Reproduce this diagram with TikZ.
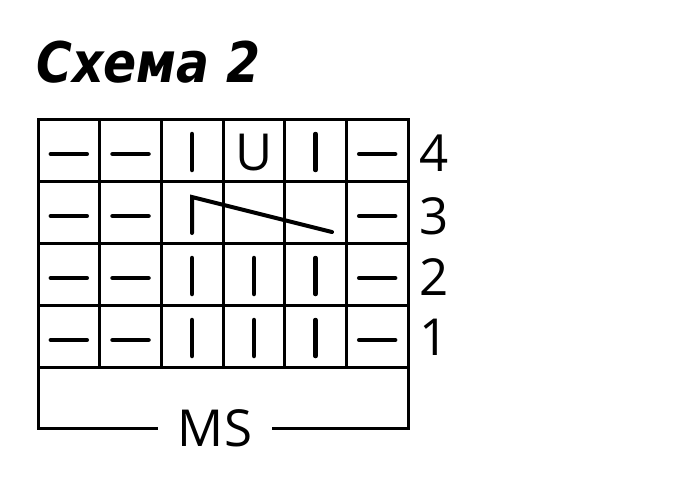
\documentclass[tikz,border=0pt]{standalone}
\usepackage{fontspec}
\setmainfont{Open Sans}
\newfontfamily\titlefont{DejaVu Sans Condensed}[BoldItalicFont={DejaVu Sans Condensed Bold Oblique}]
\tikzset{
    grid-line/.style = {line width=3pt},
    knit-mark/.style = {line width=4.5pt, line cap=round},
    cable-mark/.style = {line width=4pt, line cap=round, line join=miter},
    chart-text/.style = {font=\fontsize{51}{51}\selectfont, inner sep=0pt},
    row-num/.style = {chart-text, anchor=west},
    chart-title/.style = {font=\titlefont\bfseries\itshape\fontsize{56}{56}\selectfont, anchor=base west, inner sep=0pt, xscale=0.97},
}

\begin{document}
\begin{tikzpicture}[x=1pt, y=-1pt]
\useasboundingbox (0,0) rectangle (700,492);

\node[chart-title] (title) at (36,83) {Схема 2};

% chart grid
\draw[grid-line] (38,119) rectangle (408,367);
\draw[grid-line] (38,181) -- (408,181) (38,243) -- (408,243) (38,305) -- (408,305);
\draw[grid-line] (99.7,119) -- (99.7,367) (161.3,119) -- (161.3,367) (223,119) -- (223,367)
    (284.7,119) -- (284.7,367) (346.3,119) -- (346.3,367);

% purl stitches
\draw[knit-mark] (50.8,154) -- ++(36,0) (112.5,154) -- ++(36,0) (359.2,154) -- ++(36,0);
\draw[knit-mark] (50.8,216) -- ++(36,0) (112.5,216) -- ++(36,0) (359.2,216) -- ++(36,0);
\draw[knit-mark] (50.8,278) -- ++(36,0) (112.5,278) -- ++(36,0) (359.2,278) -- ++(36,0);
\draw[knit-mark] (50.8,340) -- ++(36,0) (112.5,340) -- ++(36,0) (359.2,340) -- ++(36,0);

% knit stitches
\draw[knit-mark] (192,134) -- ++(0,36) (315.5,134) -- ++(0,36);
\draw[knit-mark] (192,258) -- ++(0,36) (254,258) -- ++(0,36) (315.5,258) -- ++(0,36);
\draw[knit-mark] (192,320) -- ++(0,36) (254,320) -- ++(0,36) (315.5,320) -- ++(0,36);
\node[chart-text] (yo) at (254,153) {U};

% cross over three stitches
\draw[cable-mark] (192,233) -- (192,197) -- (332,232);

% row numbers
\node[row-num] (r4) at (419,153) {4};
\node[row-num] (r3) at (419,216) {3};
\node[row-num] (r2) at (419,277) {2};
\node[row-num] (r1) at (419,337) {1};

% repeat
\node[chart-text, inner xsep=20pt] (ms) at (215,428) {MS};
\draw[grid-line] (ms.west) -- (38,428) -- (38,367);
\draw[grid-line] (ms.east) -- (408,428) -- (408,367);
\end{tikzpicture}
\end{document}
